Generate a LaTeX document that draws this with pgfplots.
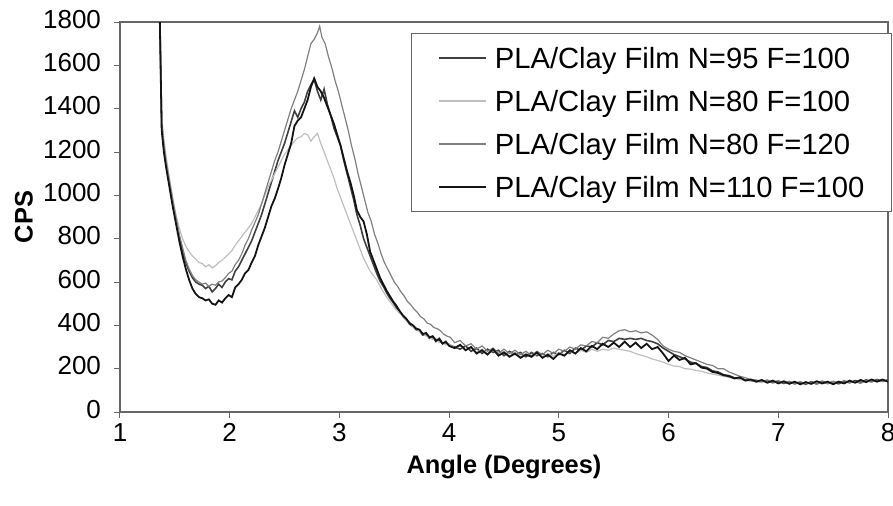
\documentclass[border=0pt]{standalone}
\usepackage{pgfplots}
\pgfplotsset{compat=1.18}
\usepackage{fontspec}
\setmainfont{Liberation Sans}
\begin{document}
\begin{tikzpicture}
\begin{axis}[
  scale only axis, width=384pt, height=195pt,
  xmin=1, xmax=8, ymin=0, ymax=1800,
  xtick={1,2,...,8}, ytick={0,200,...,1800},
  xtick pos=bottom, ytick pos=left, tick align=outside,
  major tick length=3pt,
  tick style={black!60, line width=0.5pt},
  axis line style={black!60, line width=0.6pt},
  /pgf/number format/assume math mode=true,
  /pgf/number format/1000 sep={},
  tick label style={font=\fontsize{13}{15}\selectfont},
  typeset ticklabels with strut,
  xticklabel style={yshift=2.5pt},
  yticklabel style={xshift=-3pt},
  xlabel={\bfseries Angle (Degrees)},
  ylabel={\bfseries CPS},
  label style={font=\fontsize{12.7}{14}\selectfont},
  x label style={at={(axis description cs:0.5,-0.14)}, anchor=center},
  y label style={at={(axis description cs:-0.125,0.5)}, anchor=center},
  legend cell align=left,
  legend style={at={(rel axis cs:1.005,0.972)}, anchor=north east,
    draw=black!60, line width=0.5pt, fill=white,
    font=\fontsize{14.6}{17}\selectfont,
    inner xsep=13.5pt, inner ysep=1.5pt, row sep=0pt, column sep=4pt,
    nodes={inner sep=0pt, text height=15.9pt, text depth=5.6pt}},
  legend image code/.code={\draw[#1] (0pt,0pt) -- (23.5pt,0pt);},
]
\addplot[black!75, line width=0.8pt] coordinates {
(1.34,3000)(1.36,1900)(1.38,1320)(1.40,1220)(1.42,1150)(1.45,1060)(1.48,970)(1.51,890)(1.54,810)(1.57,740)(1.60,690)(1.63,650)(1.66,620)(1.69,600)(1.72,590)(1.75,585)(1.78,570)(1.81,580)(1.84,555)(1.87,570)(1.90,590)(1.93,575)(1.96,600)(1.99,615)(2.02,610)(2.05,650)(2.08,670)(2.11,700)(2.14,730)(2.17,760)(2.20,790)(2.23,830)(2.26,870)(2.29,910)(2.32,960)(2.35,1010)(2.38,1060)(2.41,1110)(2.44,1160)(2.47,1200)(2.50,1240)(2.53,1290)(2.56,1340)(2.59,1390)(2.62,1360)(2.65,1400)(2.68,1430)(2.71,1480)(2.74,1510)(2.77,1535)(2.80,1480)(2.83,1440)(2.86,1490)(2.89,1420)(2.92,1370)(2.95,1310)(2.98,1270)(3.01,1230)(3.04,1160)(3.07,1100)(3.10,1040)(3.13,980)(3.16,910)(3.19,860)(3.22,800)(3.25,760)(3.28,720)(3.31,680)(3.34,640)(3.37,605)(3.40,580)(3.43,550)(3.46,525)(3.49,505)(3.52,480)(3.55,465)(3.58,440)(3.61,425)(3.64,405)(3.67,395)(3.70,380)(3.73,375)(3.76,355)(3.79,360)(3.82,340)(3.85,345)(3.88,325)(3.91,340)(3.94,320)(3.97,315)(4.00,310)(4.05,300)(4.10,290)(4.15,305)(4.20,280)(4.25,295)(4.30,270)(4.35,290)(4.40,275)(4.45,285)(4.50,260)(4.55,280)(4.60,265)(4.65,275)(4.70,255)(4.75,275)(4.80,260)(4.85,270)(4.90,255)(4.95,275)(5.00,265)(5.05,285)(5.10,270)(5.15,295)(5.20,285)(5.25,305)(5.30,300)(5.35,320)(5.40,310)(5.45,330)(5.50,325)(5.55,340)(5.60,335)(5.65,340)(5.70,335)(5.75,340)(5.80,330)(5.85,325)(5.90,315)(5.95,295)(6.00,280)(6.05,265)(6.10,255)(6.15,245)(6.20,230)(6.25,225)(6.30,210)(6.35,205)(6.40,190)(6.45,185)(6.50,172)(6.55,168)(6.60,158)(6.65,155)(6.70,148)(6.75,145)(6.80,142)(6.85,140)(6.90,145)(6.95,135)(7.00,142)(7.05,132)(7.10,140)(7.15,130)(7.20,138)(7.25,128)(7.30,140)(7.35,130)(7.40,142)(7.45,132)(7.50,140)(7.55,130)(7.60,142)(7.65,135)(7.70,145)(7.75,138)(7.80,148)(7.85,140)(7.90,150)(7.95,142)(8.00,148)
};
\addlegendentry{PLA/Clay Film N=95 F=100}
\addplot[black!25, line width=0.6pt] coordinates {
(1.34,3000)(1.36,1950)(1.38,1360)(1.40,1260)(1.42,1180)(1.45,1080)(1.48,990)(1.51,910)(1.54,850)(1.57,800)(1.60,765)(1.63,740)(1.66,720)(1.69,705)(1.72,690)(1.75,685)(1.78,670)(1.81,680)(1.84,665)(1.87,675)(1.90,690)(1.93,700)(1.96,715)(1.99,730)(2.02,745)(2.05,770)(2.08,790)(2.11,810)(2.14,830)(2.17,850)(2.20,870)(2.23,900)(2.26,930)(2.29,960)(2.32,1000)(2.35,1040)(2.38,1070)(2.41,1100)(2.44,1130)(2.47,1160)(2.50,1190)(2.53,1210)(2.56,1230)(2.59,1250)(2.62,1265)(2.65,1270)(2.68,1285)(2.71,1280)(2.74,1250)(2.77,1270)(2.80,1285)(2.83,1240)(2.86,1200)(2.89,1160)(2.92,1120)(2.95,1080)(2.98,1030)(3.01,990)(3.04,950)(3.07,910)(3.10,870)(3.13,830)(3.16,790)(3.19,750)(3.22,710)(3.25,680)(3.28,650)(3.31,630)(3.34,610)(3.37,580)(3.40,555)(3.43,530)(3.46,510)(3.49,490)(3.52,470)(3.55,455)(3.58,440)(3.61,420)(3.64,410)(3.67,395)(3.70,385)(3.73,370)(3.76,365)(3.79,350)(3.82,345)(3.85,335)(3.88,338)(3.91,320)(3.94,325)(3.97,310)(4.00,315)(4.05,295)(4.10,305)(4.15,285)(4.20,300)(4.25,275)(4.30,290)(4.35,270)(4.40,285)(4.45,262)(4.50,280)(4.55,258)(4.60,275)(4.65,255)(4.70,270)(4.75,252)(4.80,268)(4.85,255)(4.90,270)(4.95,258)(5.00,275)(5.05,265)(5.10,280)(5.15,270)(5.20,285)(5.25,275)(5.30,290)(5.35,280)(5.40,290)(5.45,285)(5.50,295)(5.55,290)(5.60,285)(5.65,280)(5.70,270)(5.75,262)(5.80,255)(5.85,245)(5.90,238)(5.95,230)(6.00,220)(6.05,212)(6.10,210)(6.15,200)(6.20,198)(6.25,192)(6.30,188)(6.35,180)(6.40,175)(6.45,170)(6.50,165)(6.55,160)(6.60,155)(6.65,150)(6.70,145)(6.75,148)(6.80,138)(6.85,145)(6.90,135)(6.95,142)(7.00,132)(7.05,140)(7.10,130)(7.15,138)(7.20,128)(7.25,136)(7.30,128)(7.35,138)(7.40,130)(7.45,140)(7.50,132)(7.55,142)(7.60,134)(7.65,140)(7.70,136)(7.75,145)(7.80,138)(7.85,146)(7.90,140)(7.95,148)(8.00,142)
};
\addlegendentry{PLA/Clay Film N=80 F=100}
\addplot[black!50, line width=0.6pt] coordinates {
(1.34,3000)(1.36,1950)(1.38,1340)(1.40,1240)(1.42,1160)(1.45,1070)(1.48,980)(1.51,900)(1.54,820)(1.57,760)(1.60,700)(1.63,660)(1.66,630)(1.69,610)(1.72,600)(1.75,590)(1.78,595)(1.81,580)(1.84,590)(1.87,585)(1.90,600)(1.93,605)(1.96,620)(1.99,640)(2.02,650)(2.05,680)(2.08,700)(2.11,730)(2.14,770)(2.17,800)(2.20,840)(2.23,875)(2.26,910)(2.29,960)(2.32,1010)(2.35,1060)(2.38,1110)(2.41,1160)(2.44,1200)(2.47,1250)(2.50,1300)(2.53,1350)(2.56,1400)(2.59,1440)(2.62,1480)(2.65,1530)(2.68,1580)(2.71,1640)(2.74,1700)(2.77,1720)(2.80,1750)(2.82,1780)(2.84,1730)(2.87,1700)(2.90,1640)(2.93,1590)(2.96,1530)(2.99,1480)(3.02,1420)(3.05,1360)(3.08,1300)(3.11,1230)(3.14,1170)(3.17,1100)(3.20,1040)(3.23,980)(3.26,920)(3.29,880)(3.32,820)(3.35,780)(3.38,730)(3.41,690)(3.44,660)(3.47,630)(3.50,600)(3.53,580)(3.56,555)(3.59,535)(3.62,510)(3.65,495)(3.68,475)(3.71,460)(3.74,440)(3.77,430)(3.80,410)(3.83,405)(3.86,390)(3.89,385)(3.92,375)(3.95,360)(3.98,350)(4.01,345)(4.05,320)(4.10,330)(4.15,305)(4.20,315)(4.25,290)(4.30,305)(4.35,280)(4.40,295)(4.45,270)(4.50,290)(4.55,270)(4.60,285)(4.65,265)(4.70,280)(4.75,260)(4.80,280)(4.85,265)(4.90,285)(4.95,270)(5.00,290)(5.05,280)(5.10,300)(5.15,290)(5.20,310)(5.25,305)(5.30,325)(5.35,320)(5.40,345)(5.45,340)(5.50,360)(5.55,375)(5.60,380)(5.65,370)(5.70,375)(5.75,365)(5.80,370)(5.85,355)(5.90,335)(5.95,305)(6.00,290)(6.05,280)(6.10,275)(6.15,260)(6.20,250)(6.25,240)(6.30,230)(6.35,220)(6.40,215)(6.45,200)(6.50,200)(6.55,185)(6.60,175)(6.65,165)(6.70,158)(6.75,150)(6.80,148)(6.85,140)(6.90,148)(6.95,138)(7.00,145)(7.05,135)(7.10,142)(7.15,132)(7.20,140)(7.25,130)(7.30,138)(7.35,128)(7.40,140)(7.45,130)(7.50,142)(7.55,135)(7.60,145)(7.65,135)(7.70,140)(7.75,132)(7.80,145)(7.85,138)(7.90,148)(7.95,140)(8.00,145)
};
\addlegendentry{PLA/Clay Film N=80 F=120}
\addplot[black!92, line width=0.9pt] coordinates {
(1.34,3000)(1.36,1900)(1.38,1300)(1.40,1200)(1.42,1130)(1.45,1040)(1.48,950)(1.51,870)(1.54,790)(1.57,720)(1.60,660)(1.63,610)(1.66,570)(1.69,545)(1.72,530)(1.75,525)(1.78,515)(1.81,520)(1.84,500)(1.87,495)(1.90,515)(1.93,505)(1.96,525)(1.99,540)(2.02,530)(2.05,575)(2.08,590)(2.11,610)(2.14,640)(2.17,655)(2.20,690)(2.23,720)(2.26,770)(2.29,810)(2.32,850)(2.35,900)(2.38,950)(2.41,985)(2.44,1030)(2.47,1080)(2.50,1140)(2.53,1190)(2.56,1240)(2.59,1320)(2.62,1345)(2.65,1360)(2.68,1400)(2.71,1440)(2.74,1500)(2.77,1540)(2.80,1500)(2.83,1480)(2.86,1450)(2.89,1410)(2.92,1370)(2.95,1330)(2.98,1280)(3.01,1230)(3.04,1170)(3.07,1110)(3.10,1060)(3.13,1000)(3.16,930)(3.19,900)(3.22,880)(3.25,820)(3.28,740)(3.31,700)(3.34,660)(3.37,620)(3.40,590)(3.43,560)(3.46,535)(3.49,510)(3.52,490)(3.55,465)(3.58,445)(3.61,430)(3.64,410)(3.67,400)(3.70,385)(3.73,380)(3.76,360)(3.79,365)(3.82,345)(3.85,350)(3.88,330)(3.91,335)(3.94,315)(3.97,325)(4.00,305)(4.05,295)(4.10,310)(4.15,285)(4.20,300)(4.25,270)(4.30,285)(4.35,265)(4.40,290)(4.45,260)(4.50,275)(4.55,255)(4.60,270)(4.65,250)(4.70,265)(4.75,255)(4.80,275)(4.85,250)(4.90,265)(4.95,245)(5.00,270)(5.05,260)(5.10,285)(5.15,270)(5.20,295)(5.25,280)(5.30,305)(5.35,290)(5.40,315)(5.45,300)(5.50,320)(5.55,300)(5.60,325)(5.65,300)(5.70,320)(5.75,295)(5.80,315)(5.85,290)(5.90,300)(5.95,270)(6.00,235)(6.05,260)(6.10,240)(6.15,250)(6.20,220)(6.25,225)(6.30,205)(6.35,200)(6.40,185)(6.45,180)(6.50,170)(6.55,165)(6.60,155)(6.65,160)(6.70,145)(6.75,150)(6.80,140)(6.85,148)(6.90,135)(6.95,145)(7.00,132)(7.05,142)(7.10,130)(7.15,140)(7.20,128)(7.25,138)(7.30,130)(7.35,142)(7.40,132)(7.45,140)(7.50,128)(7.55,140)(7.60,132)(7.65,145)(7.70,135)(7.75,148)(7.80,138)(7.85,150)(7.90,140)(7.95,150)(8.00,140)
};
\addlegendentry{PLA/Clay Film N=110 F=100}
\coordinate (bl) at (rel axis cs:0,0);
\coordinate (tr) at (rel axis cs:1,1);
\end{axis}
\pgfresetboundingbox
\useasboundingbox ([xshift=-60pt,yshift=-46.5pt]bl) rectangle ([xshift=2.5pt,yshift=11pt]tr);
\end{tikzpicture}
\end{document}
